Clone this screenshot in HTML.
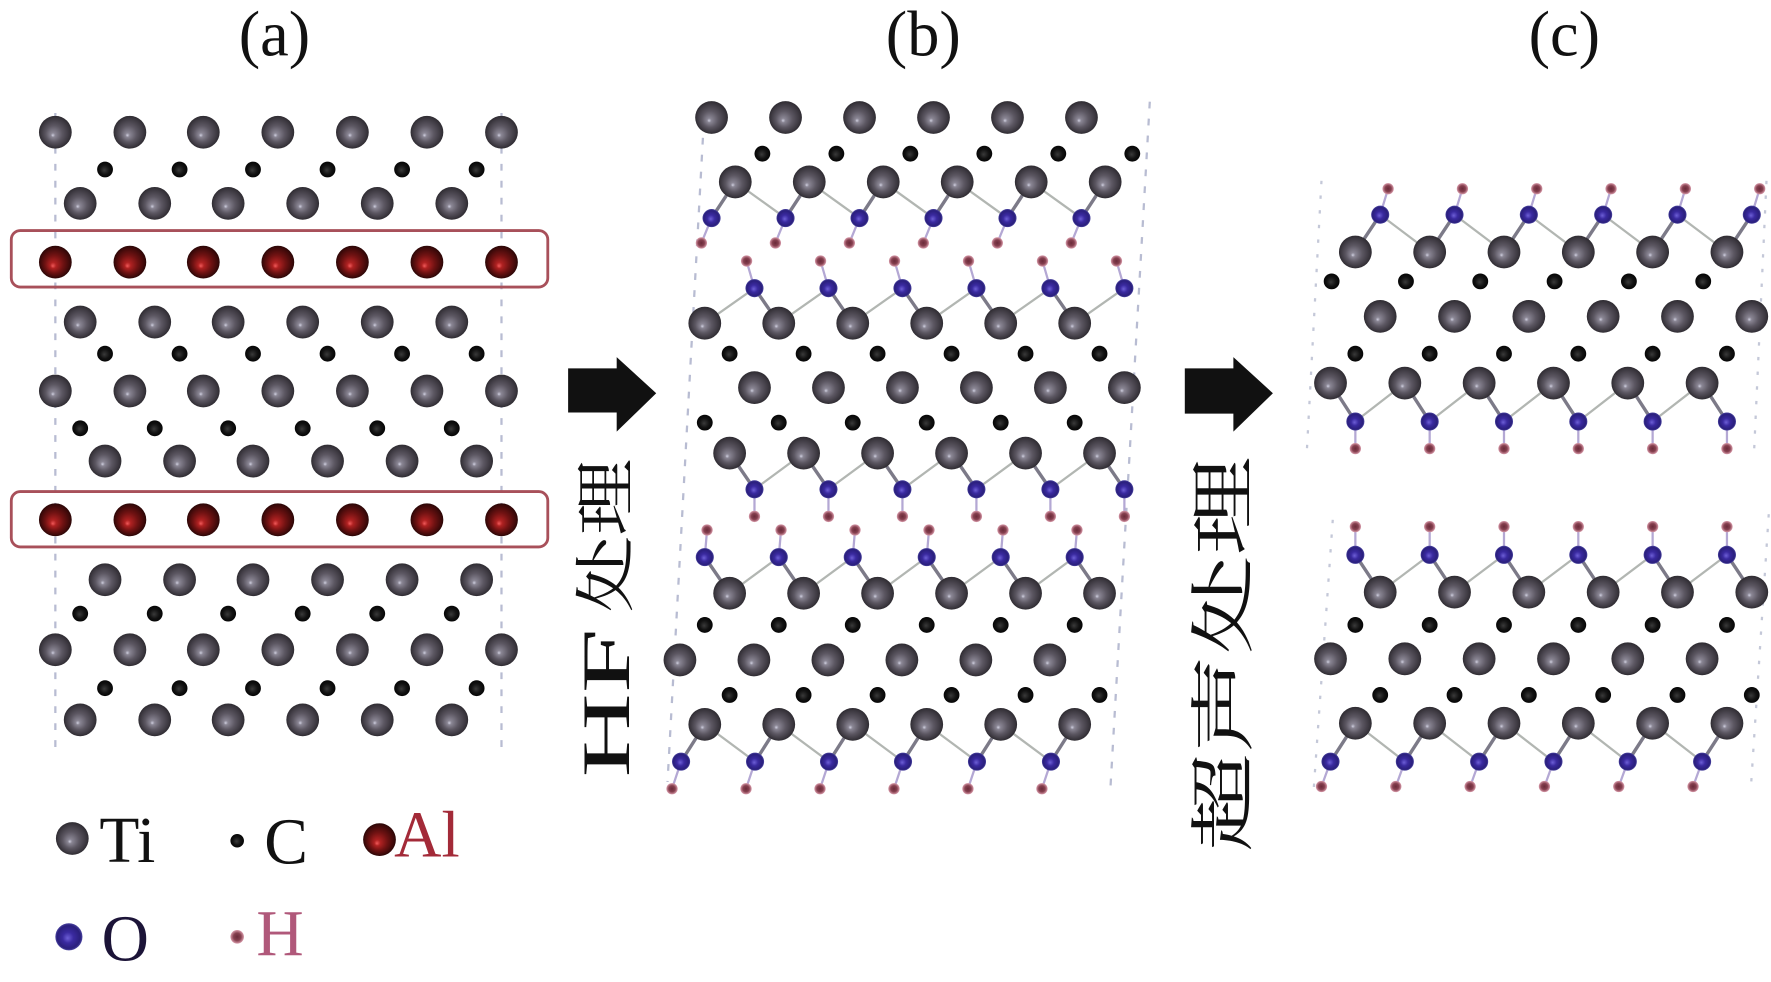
<!DOCTYPE html>
<html><head><meta charset="utf-8"><style>
html,body{margin:0;padding:0;background:#fff;}
svg{display:block;}
</style></head><body>
<svg width="1771" height="982" viewBox="0 0 1568 869" preserveAspectRatio="none" xmlns="http://www.w3.org/2000/svg" xmlns:xlink="http://www.w3.org/1999/xlink">
<defs>
<radialGradient id="gti" cx="0.5" cy="0.5" r="0.5" fx="0.42" fy="0.6">
<stop offset="0" stop-color="#d0d0e0"/><stop offset="0.13" stop-color="#8a8694"/><stop offset="0.5" stop-color="#5c5762"/><stop offset="0.85" stop-color="#3d3941"/><stop offset="1" stop-color="#2e2b31"/>
</radialGradient>
<radialGradient id="gal" cx="0.5" cy="0.5" r="0.5" fx="0.42" fy="0.62">
<stop offset="0" stop-color="#f05a5a"/><stop offset="0.18" stop-color="#b02222"/><stop offset="0.55" stop-color="#701212"/><stop offset="0.9" stop-color="#3c0909"/><stop offset="1" stop-color="#2a0606"/>
</radialGradient>
<radialGradient id="go" cx="0.5" cy="0.5" r="0.5" fx="0.45" fy="0.55">
<stop offset="0" stop-color="#6d5fd6"/><stop offset="0.4" stop-color="#3a2aa0"/><stop offset="0.85" stop-color="#2a1f7c"/><stop offset="1" stop-color="#4a44a0"/>
</radialGradient>
<radialGradient id="gh" cx="0.5" cy="0.5" r="0.5">
<stop offset="0" stop-color="#6a2a3a"/><stop offset="0.55" stop-color="#86404f"/><stop offset="1" stop-color="#d89aaa"/>
</radialGradient>
<radialGradient id="gc" cx="0.5" cy="0.5" r="0.5" fx="0.45" fy="0.55">
<stop offset="0" stop-color="#3a3a3a"/><stop offset="0.6" stop-color="#121212"/><stop offset="1" stop-color="#050505"/>
</radialGradient>
<circle id="ti" r="14.5" fill="url(#gti)"/>
<circle id="al" r="14.5" fill="url(#gal)"/>
<circle id="c" r="7" fill="url(#gc)"/>
<circle id="o" r="8" fill="url(#go)"/>
<circle id="h" r="5" fill="url(#gh)"/>
</defs>

<!-- titles -->
<g font-family="'Liberation Serif', serif" font-size="57" fill="#111" text-anchor="middle">
<text x="243" y="49">(a)</text>
<text x="817.5" y="49">(b)</text>
<text x="1385" y="49">(c)</text>
</g>

<!-- ===== Panel (a) ===== -->
<g stroke="#b8bcd2" stroke-width="2" stroke-dasharray="6 9" fill="none">
<line x1="49" y1="100" x2="49" y2="662"/>
<line x1="444" y1="100" x2="444" y2="662"/>
</g>
<rect x="10" y="204" width="475" height="50" rx="8" fill="none" stroke="#a8505a" stroke-width="2.5"/>
<rect x="10" y="435" width="475" height="49" rx="8" fill="none" stroke="#a8505a" stroke-width="2.5"/>

<g>
<use href="#ti" x="49" y="117"/><use href="#ti" x="115" y="117"/><use href="#ti" x="180" y="117"/><use href="#ti" x="246" y="117"/><use href="#ti" x="312" y="117"/><use href="#ti" x="378" y="117"/><use href="#ti" x="444" y="117"/>
<use href="#c" x="93" y="150"/><use href="#c" x="159" y="150"/><use href="#c" x="224" y="150"/><use href="#c" x="290" y="150"/><use href="#c" x="356" y="150"/><use href="#c" x="422" y="150"/>
<use href="#ti" x="71" y="180"/><use href="#ti" x="137" y="180"/><use href="#ti" x="202" y="180"/><use href="#ti" x="268" y="180"/><use href="#ti" x="334" y="180"/><use href="#ti" x="400" y="180"/>
<use href="#al" x="49" y="232"/><use href="#al" x="115" y="232"/><use href="#al" x="180" y="232"/><use href="#al" x="246" y="232"/><use href="#al" x="312" y="232"/><use href="#al" x="378" y="232"/><use href="#al" x="444" y="232"/>
<use href="#ti" x="71" y="285"/><use href="#ti" x="137" y="285"/><use href="#ti" x="202" y="285"/><use href="#ti" x="268" y="285"/><use href="#ti" x="334" y="285"/><use href="#ti" x="400" y="285"/>
<use href="#c" x="93" y="313"/><use href="#c" x="159" y="313"/><use href="#c" x="224" y="313"/><use href="#c" x="290" y="313"/><use href="#c" x="356" y="313"/><use href="#c" x="422" y="313"/>
<use href="#ti" x="49" y="346"/><use href="#ti" x="115" y="346"/><use href="#ti" x="180" y="346"/><use href="#ti" x="246" y="346"/><use href="#ti" x="312" y="346"/><use href="#ti" x="378" y="346"/><use href="#ti" x="444" y="346"/>
<use href="#c" x="71" y="379"/><use href="#c" x="137" y="379"/><use href="#c" x="202" y="379"/><use href="#c" x="268" y="379"/><use href="#c" x="334" y="379"/><use href="#c" x="400" y="379"/>
<use href="#ti" x="93" y="408"/><use href="#ti" x="159" y="408"/><use href="#ti" x="224" y="408"/><use href="#ti" x="290" y="408"/><use href="#ti" x="356" y="408"/><use href="#ti" x="422" y="408"/>
<use href="#al" x="49" y="460"/><use href="#al" x="115" y="460"/><use href="#al" x="180" y="460"/><use href="#al" x="246" y="460"/><use href="#al" x="312" y="460"/><use href="#al" x="378" y="460"/><use href="#al" x="444" y="460"/>
<use href="#ti" x="93" y="513"/><use href="#ti" x="159" y="513"/><use href="#ti" x="224" y="513"/><use href="#ti" x="290" y="513"/><use href="#ti" x="356" y="513"/><use href="#ti" x="422" y="513"/>
<use href="#c" x="71" y="543"/><use href="#c" x="137" y="543"/><use href="#c" x="202" y="543"/><use href="#c" x="268" y="543"/><use href="#c" x="334" y="543"/><use href="#c" x="400" y="543"/>
<use href="#ti" x="49" y="575"/><use href="#ti" x="115" y="575"/><use href="#ti" x="180" y="575"/><use href="#ti" x="246" y="575"/><use href="#ti" x="312" y="575"/><use href="#ti" x="378" y="575"/><use href="#ti" x="444" y="575"/>
<use href="#c" x="93" y="609"/><use href="#c" x="159" y="609"/><use href="#c" x="224" y="609"/><use href="#c" x="290" y="609"/><use href="#c" x="356" y="609"/><use href="#c" x="422" y="609"/>
<use href="#ti" x="71" y="637"/><use href="#ti" x="137" y="637"/><use href="#ti" x="202" y="637"/><use href="#ti" x="268" y="637"/><use href="#ti" x="334" y="637"/><use href="#ti" x="400" y="637"/>
</g>

<!-- legend -->
<use href="#ti" x="64" y="742"/>
<circle cx="210" cy="744" r="6" fill="url(#gc)"/>
<use href="#al" x="336" y="743"/>
<circle cx="61" cy="829" r="12" fill="url(#go)"/>
<circle cx="210" cy="829" r="6" fill="url(#gh)"/>
<g font-family="'Liberation Serif', serif" font-size="58">
<text x="88" y="763" fill="#111">Ti</text>
<text x="234" y="764" fill="#111">C</text>
<text x="349" y="758" fill="#a32a38">Al</text>
<text x="90" y="850" fill="#1c1438">O</text>
<text x="227" y="845" fill="#b0587a">H</text>
</g>

<!-- arrows -->
<polygon points="503,326 546,326 546,316 581,348 546,382 546,365 503,365" fill="#111"/>
<polygon points="1049,326 1092,326 1092,316 1127,348 1092,382 1092,366 1049,366" fill="#111"/>

<!-- vertical labels -->
<g transform="translate(557 688) rotate(-90)" fill="#111">
<text x="0" y="0" font-family="'Liberation Serif', serif" font-size="60" textLength="132" lengthAdjust="spacingAndGlyphs">HF</text>
<text x="146" y="-2" font-family="'Liberation Serif', 'Noto Serif CJK SC', serif" font-size="54" textLength="136" lengthAdjust="spacingAndGlyphs">处理</text>
</g>
<g transform="translate(1103 754) rotate(-90)" fill="#111">
<text x="0" y="0" font-family="'Liberation Serif', 'Noto Serif CJK SC', serif" font-size="58" textLength="350" lengthAdjust="spacingAndGlyphs">超声处理</text>
</g>

<!-- ===== Panel (b) ===== -->
<g stroke="#b8bcd2" stroke-width="2" stroke-dasharray="6 9" fill="none">
<line x1="624" y1="92" x2="591" y2="692"/>
<line x1="1018" y1="90" x2="983" y2="700"/>
</g>
<g fill="none" stroke="#b2b6b2" stroke-width="2">
<polyline points="630,193 651,161 695.5,193 716.5,161 761,193 782,161 826.5,193 847.5,161 892,193 913,161 957.5,193 978.5,161"/>
<polyline points="624,286 668,255 689.5,286 733.5,255 755,286 799,255 820.5,286 864.5,255 886,286 930,255 951.5,286 995.5,255"/>
<polyline points="646,401 668,433 711.5,401 733.5,433 777,401 799,433 842.5,401 864.5,433 908,401 930,433 973.5,401 995.5,433"/>
<polyline points="624,493 646,525 689.5,493 711.5,525 755,493 777,525 820.5,493 842.5,525 886,493 908,525 951.5,493 973.5,525"/>
<polyline points="603,674 624,641 668.5,674 689.5,641 734,674 755,641 799.5,674 820.5,641 865,674 886,641 930.5,674 951.5,641"/>
</g>
<g fill="none" stroke="#7c7a88" stroke-width="3">
<path d="M630 193L651 161M695.5 193L716.5 161M761 193L782 161M826.5 193L847.5 161M892 193L913 161M957.5 193L978.5 161"/>
<path d="M668 255L689.5 286M733.5 255L755 286M799 255L820.5 286M864.5 255L886 286M930 255L951.5 286"/>
<path d="M646 401L668 433M711.5 401L733.5 433M777 401L799 433M842.5 401L864.5 433M908 401L930 433M973.5 401L995.5 433"/>
<path d="M624 493L646 525M689.5 493L711.5 525M755 493L777 525M820.5 493L842.5 525M886 493L908 525M951.5 493L973.5 525"/>
<path d="M603 674L624 641M668.5 674L689.5 641M734 674L755 641M799.5 674L820.5 641M865 674L886 641M930.5 674L951.5 641"/>
</g>
<g fill="none" stroke="#b4a8d4" stroke-width="2">
<path d="M630 193L621 215M695.5 193L686.5 215M761 193L752 215M826.5 193L817.5 215M892 193L883 215M957.5 193L948.5 215"/>
<path d="M661 231L668 255M726.5 231L733.5 255M792 231L799 255M857.5 231L864.5 255M923 231L930 255M988.5 231L995.5 255"/>
<path d="M668 433L668 457M733.5 433L733.5 457M799 433L799 457M864.5 433L864.5 457M930 433L930 457M995.5 433L995.5 457"/>
<path d="M626 469L624 493M691.5 469L689.5 493M757 469L755 493M822.5 469L820.5 493M888 469L886 493M953.5 469L951.5 493"/>
<path d="M603 674L595 698M668.5 674L660.5 698M734 674L726 698M799.5 674L791.5 698M865 674L857 698M930.5 674L922.5 698"/>
</g>
<g>
<use href="#ti" x="630" y="104"/><use href="#ti" x="695.5" y="104"/><use href="#ti" x="761" y="104"/><use href="#ti" x="826.5" y="104"/><use href="#ti" x="892" y="104"/><use href="#ti" x="957.5" y="104"/>
<use href="#c" x="675" y="136"/><use href="#c" x="740.5" y="136"/><use href="#c" x="806" y="136"/><use href="#c" x="871.5" y="136"/><use href="#c" x="937" y="136"/><use href="#c" x="1002.5" y="136"/>
<use href="#ti" x="651" y="161"/><use href="#ti" x="716.5" y="161"/><use href="#ti" x="782" y="161"/><use href="#ti" x="847.5" y="161"/><use href="#ti" x="913" y="161"/><use href="#ti" x="978.5" y="161"/>
<use href="#o" x="630" y="193"/><use href="#o" x="695.5" y="193"/><use href="#o" x="761" y="193"/><use href="#o" x="826.5" y="193"/><use href="#o" x="892" y="193"/><use href="#o" x="957.5" y="193"/>
<use href="#h" x="621" y="215"/><use href="#h" x="686.5" y="215"/><use href="#h" x="752" y="215"/><use href="#h" x="817.5" y="215"/><use href="#h" x="883" y="215"/><use href="#h" x="948.5" y="215"/>
<use href="#h" x="661" y="231"/><use href="#h" x="726.5" y="231"/><use href="#h" x="792" y="231"/><use href="#h" x="857.5" y="231"/><use href="#h" x="923" y="231"/><use href="#h" x="988.5" y="231"/>
<use href="#o" x="668" y="255"/><use href="#o" x="733.5" y="255"/><use href="#o" x="799" y="255"/><use href="#o" x="864.5" y="255"/><use href="#o" x="930" y="255"/><use href="#o" x="995.5" y="255"/>
<use href="#ti" x="624" y="286"/><use href="#ti" x="689.5" y="286"/><use href="#ti" x="755" y="286"/><use href="#ti" x="820.5" y="286"/><use href="#ti" x="886" y="286"/><use href="#ti" x="951.5" y="286"/>
<use href="#c" x="646" y="313"/><use href="#c" x="711.5" y="313"/><use href="#c" x="777" y="313"/><use href="#c" x="842.5" y="313"/><use href="#c" x="908" y="313"/><use href="#c" x="973.5" y="313"/>
<use href="#ti" x="668" y="343"/><use href="#ti" x="733.5" y="343"/><use href="#ti" x="799" y="343"/><use href="#ti" x="864.5" y="343"/><use href="#ti" x="930" y="343"/><use href="#ti" x="995.5" y="343"/>
<use href="#c" x="624" y="374"/><use href="#c" x="689.5" y="374"/><use href="#c" x="755" y="374"/><use href="#c" x="820.5" y="374"/><use href="#c" x="886" y="374"/><use href="#c" x="951.5" y="374"/>
<use href="#ti" x="646" y="401"/><use href="#ti" x="711.5" y="401"/><use href="#ti" x="777" y="401"/><use href="#ti" x="842.5" y="401"/><use href="#ti" x="908" y="401"/><use href="#ti" x="973.5" y="401"/>
<use href="#o" x="668" y="433"/><use href="#o" x="733.5" y="433"/><use href="#o" x="799" y="433"/><use href="#o" x="864.5" y="433"/><use href="#o" x="930" y="433"/><use href="#o" x="995.5" y="433"/>
<use href="#h" x="668" y="457"/><use href="#h" x="733.5" y="457"/><use href="#h" x="799" y="457"/><use href="#h" x="864.5" y="457"/><use href="#h" x="930" y="457"/><use href="#h" x="995.5" y="457"/>
<use href="#h" x="626" y="469"/><use href="#h" x="691.5" y="469"/><use href="#h" x="757" y="469"/><use href="#h" x="822.5" y="469"/><use href="#h" x="888" y="469"/><use href="#h" x="953.5" y="469"/>
<use href="#o" x="624" y="493"/><use href="#o" x="689.5" y="493"/><use href="#o" x="755" y="493"/><use href="#o" x="820.5" y="493"/><use href="#o" x="886" y="493"/><use href="#o" x="951.5" y="493"/>
<use href="#ti" x="646" y="525"/><use href="#ti" x="711.5" y="525"/><use href="#ti" x="777" y="525"/><use href="#ti" x="842.5" y="525"/><use href="#ti" x="908" y="525"/><use href="#ti" x="973.5" y="525"/>
<use href="#c" x="624" y="553"/><use href="#c" x="689.5" y="553"/><use href="#c" x="755" y="553"/><use href="#c" x="820.5" y="553"/><use href="#c" x="886" y="553"/><use href="#c" x="951.5" y="553"/>
<use href="#ti" x="602" y="584"/><use href="#ti" x="667.5" y="584"/><use href="#ti" x="733" y="584"/><use href="#ti" x="798.5" y="584"/><use href="#ti" x="864" y="584"/><use href="#ti" x="929.5" y="584"/>
<use href="#c" x="646" y="615"/><use href="#c" x="711.5" y="615"/><use href="#c" x="777" y="615"/><use href="#c" x="842.5" y="615"/><use href="#c" x="908" y="615"/><use href="#c" x="973.5" y="615"/>
<use href="#ti" x="624" y="641"/><use href="#ti" x="689.5" y="641"/><use href="#ti" x="755" y="641"/><use href="#ti" x="820.5" y="641"/><use href="#ti" x="886" y="641"/><use href="#ti" x="951.5" y="641"/>
<use href="#o" x="603" y="674"/><use href="#o" x="668.5" y="674"/><use href="#o" x="734" y="674"/><use href="#o" x="799.5" y="674"/><use href="#o" x="865" y="674"/><use href="#o" x="930.5" y="674"/>
<use href="#h" x="595" y="698"/><use href="#h" x="660.5" y="698"/><use href="#h" x="726" y="698"/><use href="#h" x="791.5" y="698"/><use href="#h" x="857" y="698"/><use href="#h" x="922.5" y="698"/>
</g>

<!-- ===== Panel (c) ===== -->
<g stroke="#c4c8d8" stroke-width="2" stroke-dasharray="3 10" fill="none">
<line x1="1170" y1="160" x2="1157" y2="400"/>
<line x1="1180" y1="460" x2="1163" y2="700"/>
<line x1="1564" y1="160" x2="1553" y2="400"/>
<line x1="1566" y1="455" x2="1550" y2="700"/>
</g>
<g fill="none" stroke="#b2b6b2" stroke-width="2">
<polyline points="1200,223 1222,190 1265.8,223 1287.8,190 1331.6,223 1353.6,190 1397.4,223 1419.4,190 1463.2,223 1485.2,190 1529,223 1551,190"/>
<polyline points="1178,339 1200,373 1243.8,339 1265.8,373 1309.6,339 1331.6,373 1375.4,339 1397.4,373 1441.2,339 1463.2,373 1507,339 1529,373"/>
<polyline points="1200,491 1222,524 1265.8,491 1287.8,524 1331.6,491 1353.6,524 1397.4,491 1419.4,524 1463.2,491 1485.2,524 1529,491 1551,524"/>
<polyline points="1178,674 1200,640 1243.8,674 1265.8,640 1309.6,674 1331.6,640 1375.4,674 1397.4,640 1441.2,674 1463.2,640 1507,674 1529,640"/>
</g>
<g fill="none" stroke="#7c7a88" stroke-width="3">
<path d="M1222 190L1200 223M1287.8 190L1265.8 223M1353.6 190L1331.6 223M1419.4 190L1397.4 223M1485.2 190L1463.2 223M1551 190L1529 223"/>
<path d="M1178 339L1200 373M1243.8 339L1265.8 373M1309.6 339L1331.6 373M1375.4 339L1397.4 373M1441.2 339L1463.2 373M1507 339L1529 373"/>
<path d="M1200 491L1222 524M1265.8 491L1287.8 524M1331.6 491L1353.6 524M1397.4 491L1419.4 524M1463.2 491L1485.2 524M1529 491L1551 524"/>
<path d="M1178 674L1200 640M1243.8 674L1265.8 640M1309.6 674L1331.6 640M1375.4 674L1397.4 640M1441.2 674L1463.2 640M1507 674L1529 640"/>
</g>
<g fill="none" stroke="#b4a8d4" stroke-width="2">
<path d="M1229 167L1222 190M1294.8 167L1287.8 190M1360.6 167L1353.6 190M1426.4 167L1419.4 190M1492.2 167L1485.2 190M1558 167L1551 190"/>
<path d="M1200 373L1200 397M1265.8 373L1265.8 397M1331.6 373L1331.6 397M1397.4 373L1397.4 397M1463.2 373L1463.2 397M1529 373L1529 397"/>
<path d="M1200 466L1200 491M1265.8 466L1265.8 491M1331.6 466L1331.6 491M1397.4 466L1397.4 491M1463.2 466L1463.2 491M1529 466L1529 491"/>
<path d="M1178 674L1170 696M1243.8 674L1235.8 696M1309.6 674L1301.6 696M1375.4 674L1367.4 696M1441.2 674L1433.2 696M1507 674L1499 696"/>
</g>
<g>
<use href="#h" x="1229" y="167"/><use href="#h" x="1294.8" y="167"/><use href="#h" x="1360.6" y="167"/><use href="#h" x="1426.4" y="167"/><use href="#h" x="1492.2" y="167"/><use href="#h" x="1558" y="167"/>
<use href="#o" x="1222" y="190"/><use href="#o" x="1287.8" y="190"/><use href="#o" x="1353.6" y="190"/><use href="#o" x="1419.4" y="190"/><use href="#o" x="1485.2" y="190"/><use href="#o" x="1551" y="190"/>
<use href="#ti" x="1200" y="223"/><use href="#ti" x="1265.8" y="223"/><use href="#ti" x="1331.6" y="223"/><use href="#ti" x="1397.4" y="223"/><use href="#ti" x="1463.2" y="223"/><use href="#ti" x="1529" y="223"/>
<use href="#c" x="1179" y="249"/><use href="#c" x="1244.8" y="249"/><use href="#c" x="1310.6" y="249"/><use href="#c" x="1376.4" y="249"/><use href="#c" x="1442.2" y="249"/><use href="#c" x="1508" y="249"/>
<use href="#ti" x="1222" y="280"/><use href="#ti" x="1287.8" y="280"/><use href="#ti" x="1353.6" y="280"/><use href="#ti" x="1419.4" y="280"/><use href="#ti" x="1485.2" y="280"/><use href="#ti" x="1551" y="280"/>
<use href="#c" x="1200" y="313"/><use href="#c" x="1265.8" y="313"/><use href="#c" x="1331.6" y="313"/><use href="#c" x="1397.4" y="313"/><use href="#c" x="1463.2" y="313"/><use href="#c" x="1529" y="313"/>
<use href="#ti" x="1178" y="339"/><use href="#ti" x="1243.8" y="339"/><use href="#ti" x="1309.6" y="339"/><use href="#ti" x="1375.4" y="339"/><use href="#ti" x="1441.2" y="339"/><use href="#ti" x="1507" y="339"/>
<use href="#o" x="1200" y="373"/><use href="#o" x="1265.8" y="373"/><use href="#o" x="1331.6" y="373"/><use href="#o" x="1397.4" y="373"/><use href="#o" x="1463.2" y="373"/><use href="#o" x="1529" y="373"/>
<use href="#h" x="1200" y="397"/><use href="#h" x="1265.8" y="397"/><use href="#h" x="1331.6" y="397"/><use href="#h" x="1397.4" y="397"/><use href="#h" x="1463.2" y="397"/><use href="#h" x="1529" y="397"/>
<use href="#h" x="1200" y="466"/><use href="#h" x="1265.8" y="466"/><use href="#h" x="1331.6" y="466"/><use href="#h" x="1397.4" y="466"/><use href="#h" x="1463.2" y="466"/><use href="#h" x="1529" y="466"/>
<use href="#o" x="1200" y="491"/><use href="#o" x="1265.8" y="491"/><use href="#o" x="1331.6" y="491"/><use href="#o" x="1397.4" y="491"/><use href="#o" x="1463.2" y="491"/><use href="#o" x="1529" y="491"/>
<use href="#ti" x="1222" y="524"/><use href="#ti" x="1287.8" y="524"/><use href="#ti" x="1353.6" y="524"/><use href="#ti" x="1419.4" y="524"/><use href="#ti" x="1485.2" y="524"/><use href="#ti" x="1551" y="524"/>
<use href="#c" x="1200" y="553"/><use href="#c" x="1265.8" y="553"/><use href="#c" x="1331.6" y="553"/><use href="#c" x="1397.4" y="553"/><use href="#c" x="1463.2" y="553"/><use href="#c" x="1529" y="553"/>
<use href="#ti" x="1178" y="583"/><use href="#ti" x="1243.8" y="583"/><use href="#ti" x="1309.6" y="583"/><use href="#ti" x="1375.4" y="583"/><use href="#ti" x="1441.2" y="583"/><use href="#ti" x="1507" y="583"/>
<use href="#c" x="1222" y="615"/><use href="#c" x="1287.8" y="615"/><use href="#c" x="1353.6" y="615"/><use href="#c" x="1419.4" y="615"/><use href="#c" x="1485.2" y="615"/><use href="#c" x="1551" y="615"/>
<use href="#ti" x="1200" y="640"/><use href="#ti" x="1265.8" y="640"/><use href="#ti" x="1331.6" y="640"/><use href="#ti" x="1397.4" y="640"/><use href="#ti" x="1463.2" y="640"/><use href="#ti" x="1529" y="640"/>
<use href="#o" x="1178" y="674"/><use href="#o" x="1243.8" y="674"/><use href="#o" x="1309.6" y="674"/><use href="#o" x="1375.4" y="674"/><use href="#o" x="1441.2" y="674"/><use href="#o" x="1507" y="674"/>
<use href="#h" x="1170" y="696"/><use href="#h" x="1235.8" y="696"/><use href="#h" x="1301.6" y="696"/><use href="#h" x="1367.4" y="696"/><use href="#h" x="1433.2" y="696"/><use href="#h" x="1499" y="696"/>
</g>
</svg>
</body></html>
